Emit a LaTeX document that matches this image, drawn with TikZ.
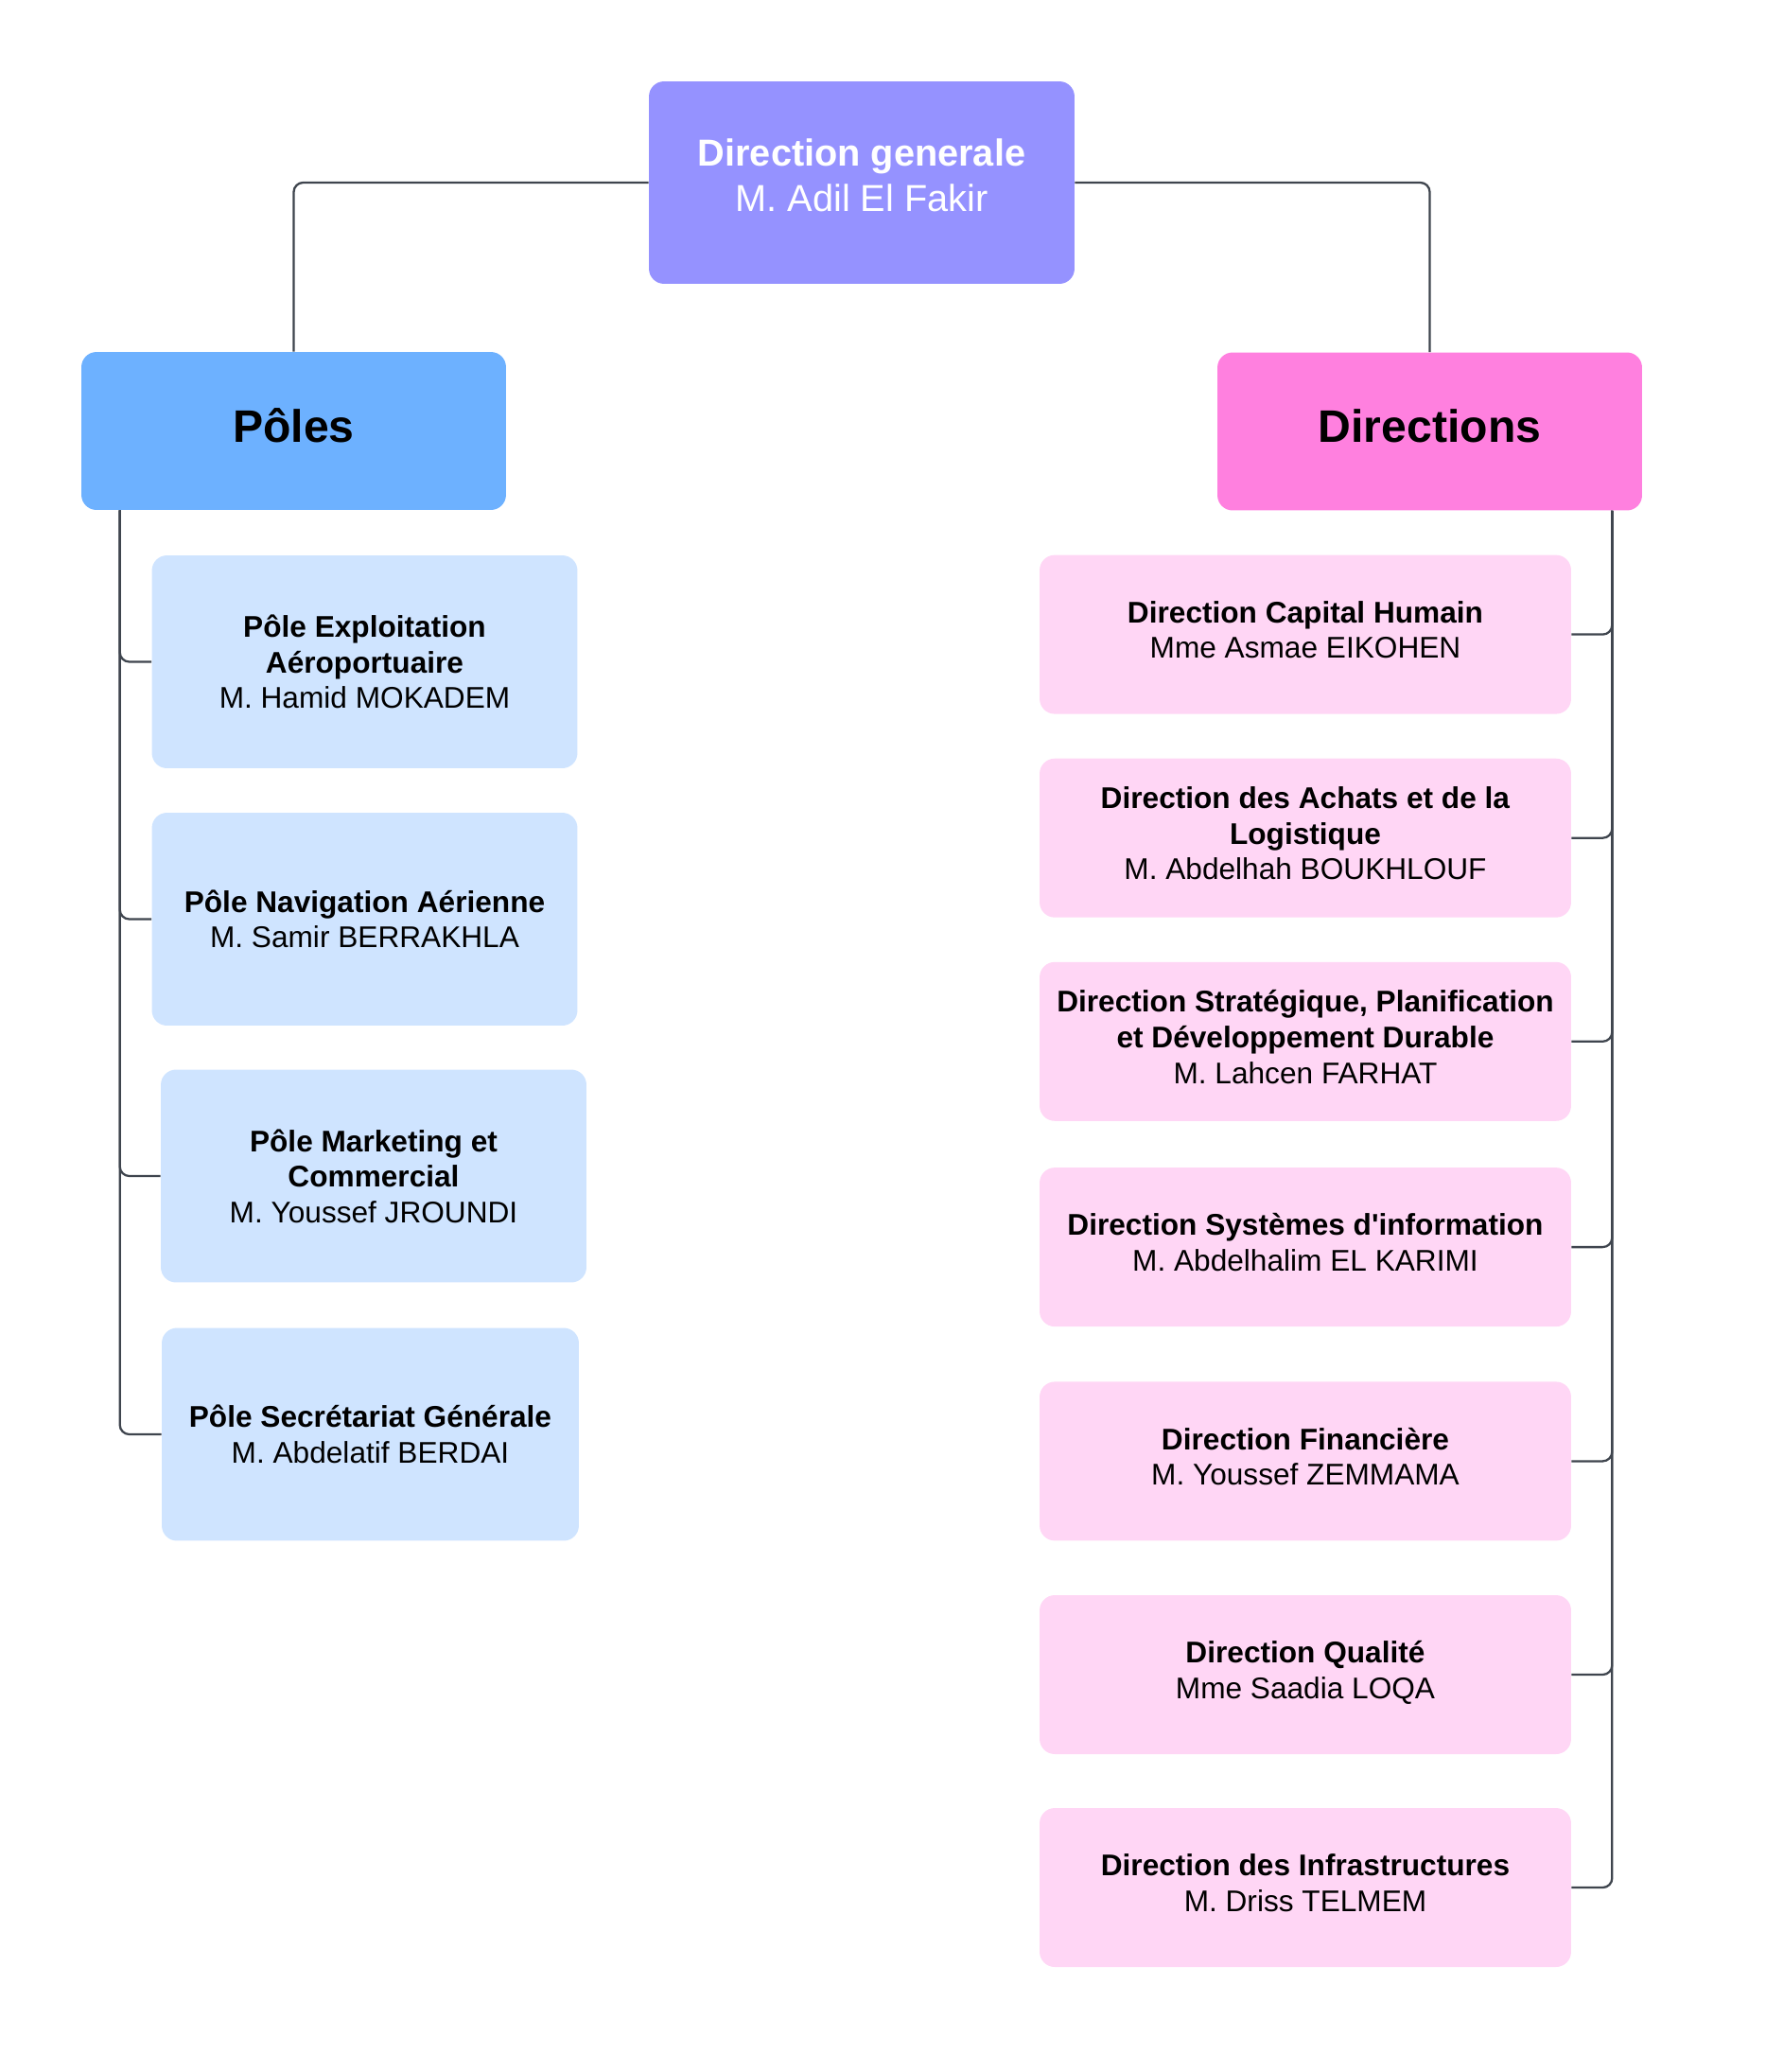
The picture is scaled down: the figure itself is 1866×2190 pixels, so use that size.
\documentclass[tikz,border=0pt]{standalone}
\usepackage{fontspec}
\setmainfont{Liberation Sans}
\definecolor{dgfill}{HTML}{9592FF}
\definecolor{polesfill}{HTML}{6DB1FF}
\definecolor{dirsfill}{HTML}{FF80DF}
\definecolor{polefill}{HTML}{CFE4FF}
\definecolor{dirfill}{HTML}{FFD6F5}
\definecolor{linkgray}{HTML}{3F454E}
\begin{document}
\begin{tikzpicture}[x=0.02cm,y=-0.02cm,
        base/.style={rounded corners=0.32cm,align=center,inner sep=0pt},
        top/.style={base,fill=dgfill,text=white,minimum width=9cm,minimum height=4.28cm,
            text depth=0.32cm,font=\fontsize{22.6}{27}\selectfont},
        head/.style={base,minimum width=8.98cm,minimum height=3.34cm,text depth=0.24cm,
            font=\fontsize{27.4}{32.8}\selectfont\bfseries},
        poleitem/.style={base,fill=polefill,minimum width=9cm,minimum height=4.5cm,
            font=\fontsize{18}{21.4}\selectfont},
        diritem/.style={base,fill=dirfill,minimum width=11.24cm,minimum height=3.36cm,
            text depth=0.2cm,font=\fontsize{18}{21.4}\selectfont},
        link/.style={draw=linkgray,line width=1.3pt,rounded corners=0.2cm}]
        \useasboundingbox (0,0) rectangle (1866,2190);
        % Top
        \node[top] (dg) at (911,193) {\textbf{Direction generale}\\M. Adil El Fakir};
        \node[head,fill=polesfill] (poles) at (310.5,455.5) {Pôles};
        \node[head,fill=dirsfill] (dirs) at (1511.5,456) {Directions};
        \draw[link] (dg.west) -| (poles.north);
        \draw[link] (dg.east) -| (dirs.north);
        % Left column
        \node[poleitem] (p1) at (385.5,699.5) {\textbf{Pôle Exploitation}\\\textbf{Aéroportuaire}\\M. Hamid MOKADEM};
        \node[poleitem] (p2) at (385.5,971.5) {\textbf{Pôle Navigation Aérienne}\\M. Samir BERRAKHLA};
        \node[poleitem] (p3) at (395,1243) {\textbf{Pôle Marketing et}\\\textbf{Commercial}\\M. Youssef JROUNDI};
        \node[poleitem,minimum width=8.82cm] (p4) at (391.5,1516) {\textbf{Pôle Secrétariat Générale}\\M. Abdelatif BERDAI};
        \coordinate (lspine) at ([xshift=0.82cm]poles.south west);
        \foreach \p in {p1,p2,p3,p4}
            \draw[link] (lspine) |- (\p.west);
        % Right column
        \node[diritem] (d1) at (1380,670.6) {\textbf{Direction Capital Humain}\\Mme Asmae EIKOHEN};
        \node[diritem] (d2) at (1380,885.7) {\textbf{Direction des Achats et de la}\\\textbf{Logistique}\\M. Abdelhah BOUKHLOUF};
        \node[diritem] (d3) at (1380,1100.8) {\textbf{Direction Stratégique, Planification}\\\textbf{et Développement Durable}\\M. Lahcen FARHAT};
        \node[diritem] (d4) at (1380,1318.1) {\textbf{Direction Systèmes d\textquotesingle information}\\M. Abdelhalim EL KARIMI};
        \node[diritem] (d5) at (1380,1544.4) {\textbf{Direction Financière}\\M. Youssef ZEMMAMA};
        \node[diritem] (d6) at (1380,1770) {\textbf{Direction Qualité}\\Mme Saadia LOQA};
        \node[diritem] (d7) at (1380,1995) {\textbf{Direction des Infrastructures}\\M. Driss TELMEM};
        \coordinate (rspine) at ([xshift=-0.64cm]dirs.south east);
        \foreach \d in {d1,d2,d3,d4,d5,d6,d7}
            \draw[link] (rspine) |- (\d.east);
    \end{tikzpicture}
\end{document}
